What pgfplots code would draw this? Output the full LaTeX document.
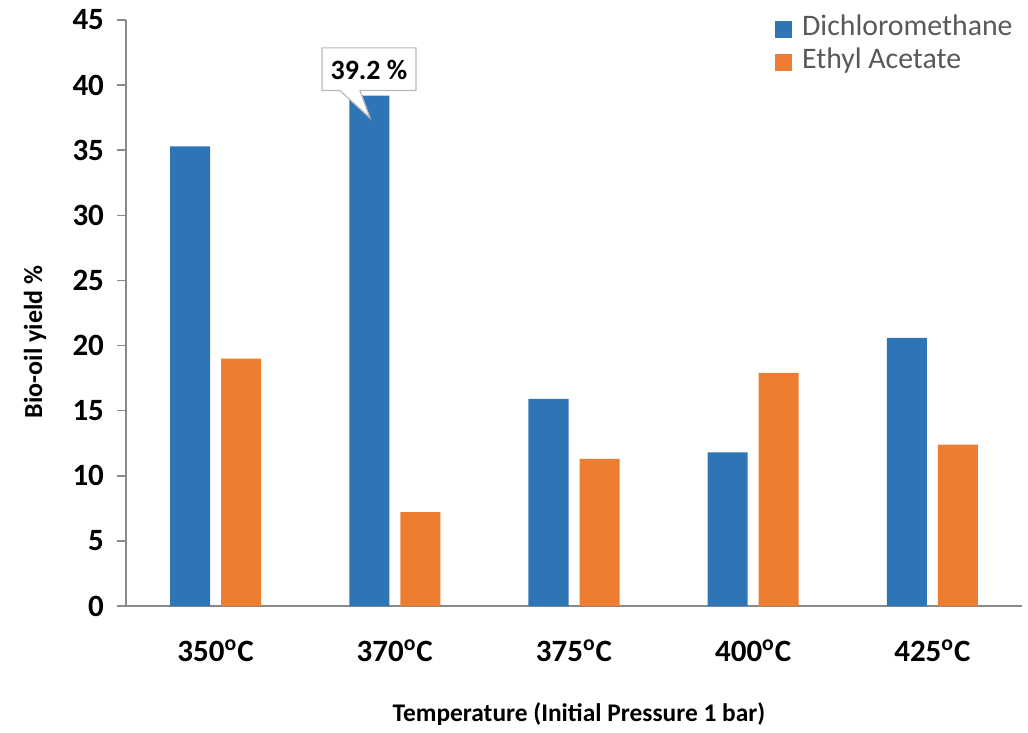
\documentclass[border=0pt]{standalone}
\usepackage{pgfplots}
\pgfplotsset{compat=1.18}
\usepackage{fontspec}
\setmainfont{Carlito}
\definecolor{dcm}{HTML}{2E75B6}
\definecolor{ea}{HTML}{ED7D31}
\definecolor{axgray}{HTML}{898989}
\definecolor{legtext}{HTML}{595959}
\begin{document}
\begin{tikzpicture}
\begin{axis}[
  at={(0,0)}, anchor=south west,
  x=89.6pt, y=6.511pt,
  xmin=-0.5, xmax=4.5, ymin=0, ymax=45,
  enlargelimits=false,
  axis x line=bottom, axis y line=left,
  axis line style={-, axgray, line width=0.75pt},
  x axis line style={shorten <=-4.5pt},
  ytick={0,5,...,45},
  xtick={0,1,2,3,4},
  xticklabels={350\textsuperscript{o}C,370\textsuperscript{o}C,375\textsuperscript{o}C,400\textsuperscript{o}C,425\textsuperscript{o}C},
  tick align=outside,
  major tick length=4.5pt,
  ytick style={axgray, line width=0.75pt},
  xtick style={draw=none},
  /pgf/number format/assume math mode=true,
  yticklabel style={font=\fontsize{15.5}{18}\selectfont\bfseries, xshift=-3pt},
  xticklabel style={font=\fontsize{15.5}{18}\selectfont\bfseries, yshift=-9pt},
  xlabel={Temperature (Initial Pressure 1 bar)},
  ylabel={Bio-oil yield \%},
  xlabel style={font=\fontsize{12.7}{15}\selectfont\bfseries, at={(axis description cs:0.5056,0)}, anchor=center, yshift=-54pt},
  ylabel style={font=\fontsize{13}{15}\selectfont\bfseries, at={(axis description cs:-0.1016,0.4505)}, anchor=center},
  legend style={at={(rel axis cs:0.724,1.012)}, anchor=north west, draw=none, fill=none, inner sep=0pt,
    font=\fontsize{14.9}{17}\selectfont\color{legtext}, row sep=0pt,
    nodes={inner sep=0pt, text height=11pt, text depth=5.5pt},
    /tikz/every even column/.append style={column sep=0pt}},
  legend cell align=left,
  legend image code/.code={\fill[#1] (0pt,-4.25pt) rectangle (8.5pt,4.25pt);},
  clip=false,
]
\addplot[ybar, bar width=20pt, bar shift=-12.75pt, fill=dcm, draw=none] coordinates {(0,35.3) (1,39.2) (2,15.9) (3,11.8) (4,20.6)};
\addlegendentry{\hspace{5pt}Dichloromethane}
\addplot[ybar, bar width=20pt, bar shift=12.75pt, fill=ea, draw=none] coordinates {(0,19.0) (1,7.2) (2,11.3) (3,17.9) (4,12.4)};
\addlegendentry{\hspace{5pt}Ethyl Acetate}
\draw[fill=white, draw=gray!55, line width=0.6pt]
  (axis cs:0.5938,42.86) -- (axis cs:1.1183,42.86) -- (axis cs:1.1183,39.58) -- (axis cs:0.8058,39.58)
  -- (axis cs:0.8616,37.48) -- (axis cs:0.6942,39.58) -- (axis cs:0.5938,39.58) -- cycle;
\node[font=\fontsize{14}{16}\selectfont\bfseries] at (axis cs:0.856,41.2) {39.2 \%};
\end{axis}
\useasboundingbox (-63pt,-59pt) rectangle (451pt,303pt);
\end{tikzpicture}
\end{document}
